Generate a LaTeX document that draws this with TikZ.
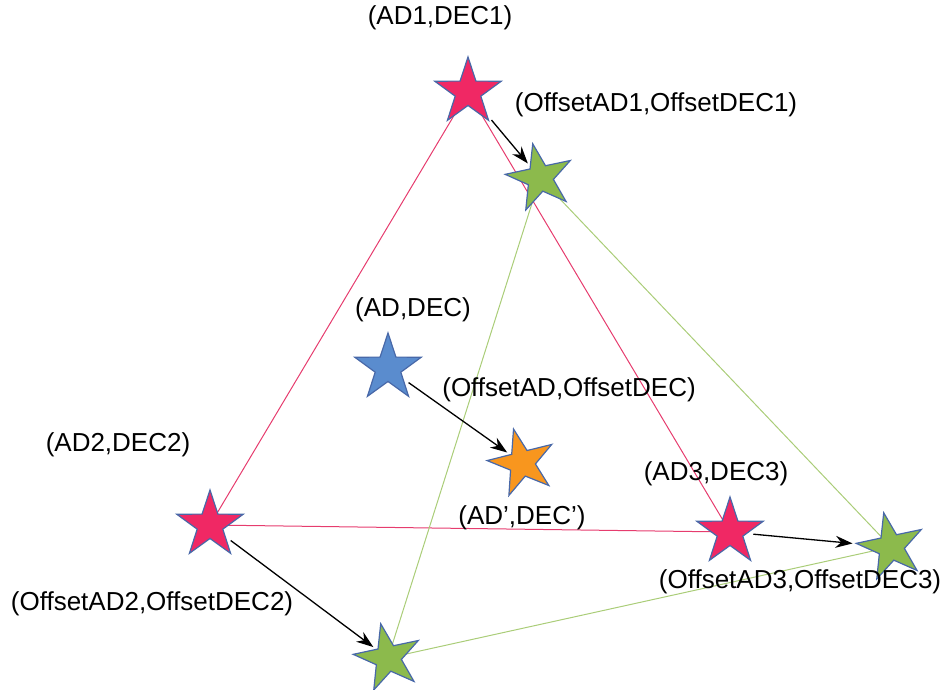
\documentclass[tikz,border=0pt]{standalone}
\usepackage{fontspec}
\setmainfont{Liberation Sans}
\usetikzlibrary{arrows.meta,shapes.geometric,backgrounds}
\definecolor{starred}{RGB}{240,40,100}
\definecolor{stargreen}{RGB}{140,186,76}
\definecolor{starblue}{RGB}{90,140,206}
\definecolor{starorange}{RGB}{248,150,30}
\definecolor{starline}{RGB}{72,104,168}
\definecolor{redline}{RGB}{230,60,110}
\definecolor{greenline}{RGB}{170,205,120}

\begin{document}
\begin{tikzpicture}[x=1pt,y=-1pt,>={Stealth[length=17pt,width=12pt]},
  star node/.style={star,star points=5,star point ratio=2.6,minimum size=70pt,inner sep=0pt,draw=starline,line width=1.2pt},
  red star/.style={star node,fill=starred},
  green star/.style={star node,fill=stargreen,shape border rotate=12},
  coord text/.style={font=\fontsize{26}{30}\selectfont,inner sep=0pt},
  move/.style={->,black,line width=1.3pt,shorten <=6pt,shorten >=3pt}]

  \useasboundingbox (0,0) rectangle (947,689);

  % stars
  \node[red star] (r1) at (468,92) {};
  \node[red star] (r2) at (210,525) {};
  \node[red star] (r3) at (730,532) {};
  \node[green star] (g1) at (540,178) {};
  \node[green star] (g2) at (388,658) {};
  \node[green star] (g3) at (891,547) {};
  \node[star node,fill=starblue] (ad) at (388,368) {};
  \node[star node,fill=starorange,shape border rotate=14] (adp) at (522,463) {};

  % triangles
  \begin{scope}[on background layer]
    \draw[redline,line width=1pt] (r1.center) -- (r2.center) -- (r3.center) -- cycle;
    \draw[greenline,line width=1pt] (g1.center) -- (g2.center) -- (g3.center) -- cycle;
  \end{scope}

  % offsets
  \draw[move] (r1) -- (g1);
  \draw[move] (r2) -- (g2);
  \draw[move] (r3) -- (g3);
  \draw[move] (ad) -- (adp);

  % coordinates
  \node[coord text] (t1) at (440,18) {(AD1,DEC1)};
  \node[coord text] (t2) at (118,445) {(AD2,DEC2)};
  \node[coord text] (t3) at (716,474) {(AD3,DEC3)};
  \node[coord text] (tg1) at (656,105) {(OffsetAD1,OffsetDEC1)};
  \node[coord text] (tg2) at (152,604) {(OffsetAD2,OffsetDEC2)};
  \node[coord text] (tg3) at (800,582) {(OffsetAD3,OffsetDEC3)};
  \node[coord text] (tad) at (413,310) {(AD,DEC)};
  \node[coord text] (tadg) at (569,390) {(OffsetAD,OffsetDEC)};
  \node[coord text] (tadp) at (522,518) {(AD',DEC')};
\end{tikzpicture}
\end{document}
